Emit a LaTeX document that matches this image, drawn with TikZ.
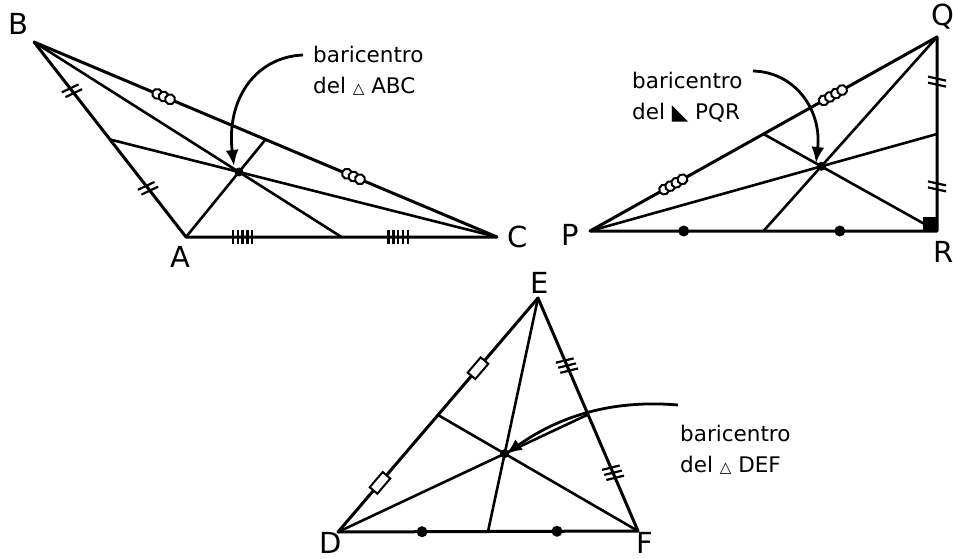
\documentclass[tikz,border=0pt]{standalone}
\usepackage{fontspec}
\setmainfont{DejaVu Sans}
\usetikzlibrary{calc, arrows.meta}
\newcommand{\trisym}{{\fontsize{15}{15}\selectfont △}}

\tikzset{
    side/.style={line width=3pt, line join=round},
    med/.style={line width=2.6pt},
    vlabel/.style={font=\fontsize{29}{29}\selectfont, inner sep=0pt},
    note/.style={font=\fontsize{21.5}{31}\selectfont, align=left, inner sep=0pt, anchor=west},
    pointer/.style={line width=2.8pt, -{Latex[length=16pt,width=13pt]}},
    dtick/.pic={\draw[line width=2.2pt] (-5pt,-9pt) -- (-1pt,9pt) (1pt,-9pt) -- (5pt,9pt);},
    ttick/.pic={\draw[line width=2.2pt] (-7pt,-9pt) -- (-4pt,9pt) (-1.5pt,-9pt) -- (1.5pt,9pt) (4pt,-9pt) -- (7pt,9pt);},
    hatch/.pic={\foreach \i in {-12,-7.2,...,12} \draw[line width=2.4pt] ({\i*1pt},-7pt) -- ({\i*1pt},7pt);},
    circs/.pic={\foreach \i in {-7,0,7} \draw[line width=2pt, fill=white] ({\i*1pt},0pt) circle (5pt);},
    circsfour/.pic={\foreach \i in {-10.5,-3.5,3.5,10.5} \draw[line width=2pt, fill=white] ({\i*1pt},0pt) circle (5pt);},
    rbox/.pic={\draw[line width=2pt, fill=white] (-10pt,-5pt) rectangle (10pt,5pt);},
    dot/.pic={\fill (0pt,0pt) circle (5.5pt);}
}

\begin{document}
\begin{tikzpicture}[x=1pt, y=-1pt]
    \useasboundingbox (0,0) rectangle (953,559);

    % Vertices
    \coordinate (A) at (186,237);
    \coordinate (B) at (34,42);
    \coordinate (C) at (497,237);
    \coordinate (P) at (590,231);
    \coordinate (Q) at (937,37);
    \coordinate (R) at (937,231);
    \coordinate (D) at (338,532);
    \coordinate (E) at (538,298);
    \coordinate (F) at (638,531);

    % Centroids
    \coordinate (GA) at ($1/3*(A)+1/3*(B)+1/3*(C)$);
    \coordinate (GP) at ($1/3*(P)+1/3*(Q)+1/3*(R)$);
    \coordinate (GD) at ($1/3*(D)+1/3*(E)+1/3*(F)$);

    % Triangle ABC
    \draw[side] (A) -- (B) -- (C) -- cycle;
    \draw[med] (A) -- ($(B)!.5!(C)$);
    \draw[med] (B) -- ($(A)!.5!(C)$);
    \draw[med] (C) -- ($(A)!.5!(B)$);
    \path (B) -- (A) pic[pos=.25, sloped] {dtick} pic[pos=.75, sloped] {dtick};
    \path (B) -- (C) pic[pos=.28, sloped] {circs} pic[pos=.69, sloped] {circs};
    \path (A) -- (C) pic[pos=.19, sloped] {hatch} pic[pos=.69, sloped] {hatch};
    \fill (GA) circle (4.5);

    % Triangle PQR
    \draw[side] (P) -- (Q) -- (R) -- cycle;
    \draw[med] (P) -- ($(Q)!.5!(R)$);
    \draw[med] (Q) -- ($(P)!.5!(R)$);
    \draw[med] (R) -- ($(P)!.5!(Q)$);
    \fill (R) rectangle ++(-14,-14);
    \path (P) -- (Q) pic[pos=.24, sloped] {circsfour} pic[pos=.70, sloped] {circsfour};
    \path (Q) -- (R) pic[pos=.23, sloped] {dtick} pic[pos=.77, sloped] {dtick};
    \path (P) -- (R) pic[pos=.27] {dot} pic[pos=.72] {dot};
    \fill (GP) circle (4.5);

    % Triangle DEF
    \draw[side] (D) -- (E) -- (F) -- cycle;
    \draw[med] (D) -- ($(E)!.5!(F)$);
    \draw[med] (E) -- ($(D)!.5!(F)$);
    \draw[med] (F) -- ($(D)!.5!(E)$);
    \path (D) -- (E) pic[pos=.21, sloped] {rbox} pic[pos=.70, sloped] {rbox};
    \path (E) -- (F) pic[pos=.29, sloped] {ttick} pic[pos=.75, sloped] {ttick};
    \path (D) -- (F) pic[pos=.28] {dot} pic[pos=.73] {dot};
    \fill (GD) circle (4.5);

    % Vertex labels
    \node[vlabel] (labB) at (18,24) {B};
    \node[vlabel] (labA) at (180,257) {A};
    \node[vlabel] (labC) at (518,237) {C};
    \node[vlabel] (labP) at (570,235) {P};
    \node[vlabel] (labQ) at (943,17) {Q};
    \node[vlabel] (labR) at (944,252) {R};
    \node[vlabel] (labE) at (540,283) {E};
    \node[vlabel] (labD) at (331,543) {D};
    \node[vlabel] (labF) at (645,543) {F};

    % Notes and pointers
    \node[note] (noteA) at (313,71) {baricentro\\del \trisym\ ABC};
    \node[note] (noteP) at (632,97) {baricentro\\del ◣ PQR};
    \node[note] (noteD) at (680,450) {baricentro\\del \trisym\ DEF};

    \coordinate (sA) at (303,55);
    \coordinate (tA) at (234,166);
    \coordinate (sP) at (753,71);
    \coordinate (tP) at (816,163);
    \coordinate (sD) at (678,405);
    \coordinate (tD) at (506,454);
    \draw[pointer] (sA) .. controls (255,57) and (226,100) .. (tA);
    \draw[pointer] (sP) .. controls (795,72) and (822,110) .. (tP);
    \draw[pointer] (sD) .. controls (620,400) and (565,412) .. (tD);
\end{tikzpicture}
\end{document}
